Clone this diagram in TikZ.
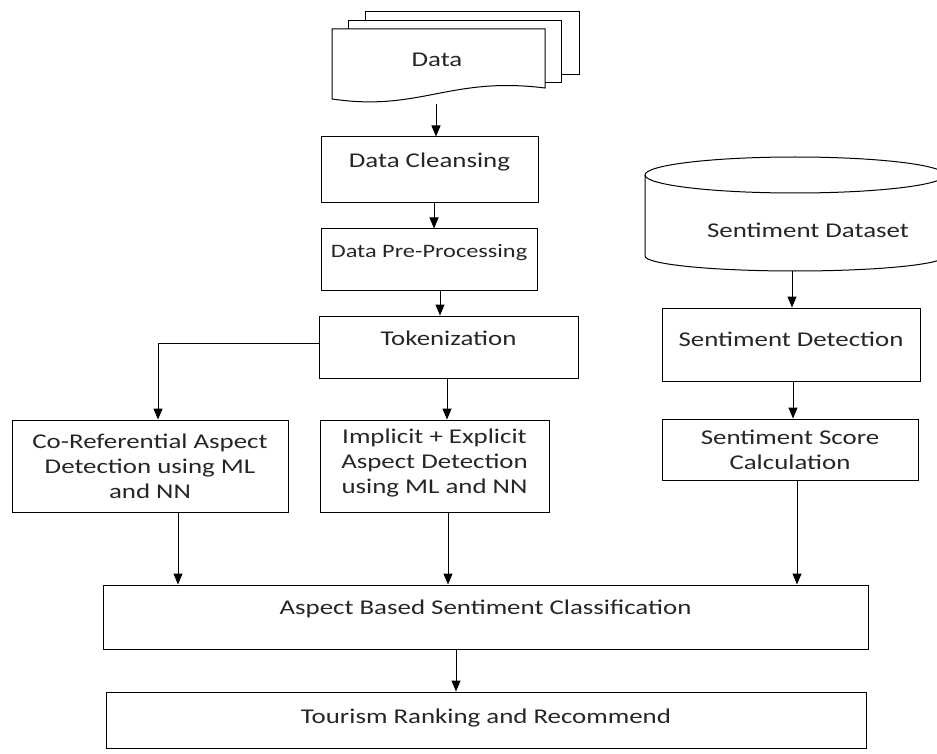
\documentclass[tikz,border=0pt]{standalone}
\usepackage{fontspec}
\setmainfont{Carlito}[FakeStretch=1.28]
\usetikzlibrary{arrows.meta}
\newcommand{\lift}[2]{\raisebox{#1}[\height][\depth]{#2}}
\begin{document}
\begin{tikzpicture}[x=1pt,y=-1pt,
  txt/.style={font=\fontsize{21}{25}\selectfont,text=black!85},
  box/.style={draw,line width=1pt,fill=white,inner sep=0pt,align=center,txt},
  arr/.style={-{Triangle[length=11pt,width=9pt]},line width=1pt},
  outline/.style={draw,line width=1pt,fill=white}]
\useasboundingbox (0,0) rectangle (937,754);
% data documents
\draw[outline] (365,12) -- (579,12) -- (579,75) -- (365,75) -- cycle;
\draw[outline] (348,21) -- (561,21) -- (561,83) -- (348,83) -- cycle;
\draw[outline] (332,29) -- (545,29) -- (545,88) .. controls (450,76) and (420,112) .. (332,99) -- cycle;
\node[txt] (data) at (437,60) {Data};
\coordinate (dataout) at (436,104);
% cylinder
\draw[outline] (645,175) -- (645,256) arc[start angle=180,end angle=0,x radius=150,y radius=15] -- (945,175);
\draw[line width=1pt] (645,175) arc[start angle=180,end angle=-180,x radius=150,y radius=18];
\node[txt] (sds) at (808,230) {Sentiment Dataset};
\coordinate (sdsout) at (792,271);
% boxes
\node[box,minimum width=217,minimum height=66] (clean) at (429.5,170) {\lift{8pt}{Data Cleansing}};
\node[box,minimum width=216,minimum height=61,font=\fontsize{19}{23}\selectfont] (pre) at (429,259.5) {\lift{7pt}{Data Pre-Processing}};
\node[box,minimum width=259,minimum height=62] (tok) at (448.5,347) {\lift{9pt}{Tokenization}};
\node[box,minimum width=276,minimum height=92] (coref) at (150,466) {Co-Referential Aspect\\Detection using ML\\and NN};
\node[box,minimum width=229,minimum height=92] (impl) at (434.5,466) {\lift{3pt}{\begin{tabular}{@{}c@{}}Implicit + Explicit\\Aspect Detection\\using ML and NN\end{tabular}}};
\node[box,minimum width=258,minimum height=73] (sdet) at (791,344.5) {\lift{5pt}{Sentiment Detection}};
\node[box,minimum width=256,minimum height=61] (sscore) at (790,449.5) {Sentiment Score\\Calculation};
\node[box,minimum width=765,minimum height=64] (abs) at (485.5,617) {\lift{8pt}{Aspect Based Sentiment Classification}};
\node[box,minimum width=760,minimum height=56] (tour) at (486,720) {\lift{2pt}{Tourism Ranking and Recommend}};
% connectors
\draw[arr] (dataout) -- (dataout |- clean.north);
\draw[arr] (clean.south -| 434,0) -- (434,0 |- pre.north);
\draw[arr] (pre.south -| 440,0) -- (440,0 |- tok.north);
\draw[arr] (tok.west |- 0,343) -| (158,0 |- coref.north);
\draw[arr] (tok.south -| 447,0) -- (447,0 |- impl.north);
\draw[arr] (sdsout) -- (sdsout |- sdet.north);
\draw[arr] (sdet.south -| 793,0) -- (793,0 |- sscore.north);
\draw[arr] (coref.south -| 178,0) -- (178,0 |- abs.north);
\draw[arr] (impl.south -| 448,0) -- (448,0 |- abs.north);
\draw[arr] (sscore.south -| 797,0) -- (797,0 |- abs.north);
\draw[arr] (abs.south -| 456,0) -- (456,0 |- tour.north);
\end{tikzpicture}
\end{document}
